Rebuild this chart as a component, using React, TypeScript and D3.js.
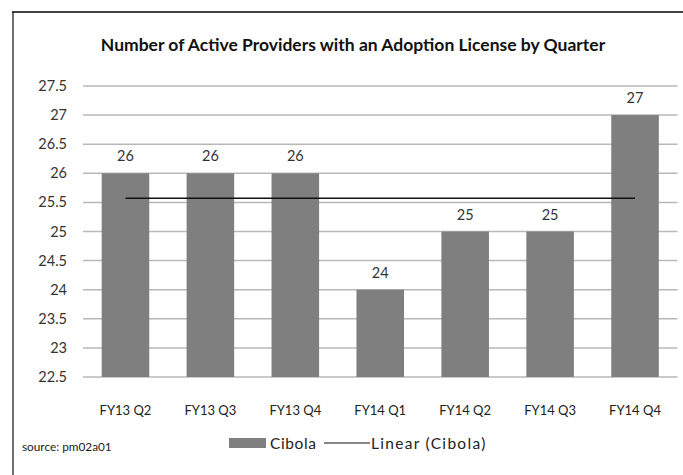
import React from "react";
import * as d3 from "d3";

const categories = ["FY13 Q2", "FY13 Q3", "FY13 Q4", "FY14 Q1", "FY14 Q2", "FY14 Q3", "FY14 Q4"];
const cibola = [26, 26, 26, 24, 25, 25, 27];
const yTicks = [22.5, 23, 23.5, 24, 24.5, 25, 25.5, 26, 26.5, 27, 27.5];
const title = "Number of Active Providers with an Adoption License by Quarter";
const sourceText = "source: pm02a01";
const seriesName = "Cibola";
const trendName = "Linear (Cibola)";

const W = 683, H = 475;
const plot = { left: 83, right: 677.5, top: 86, bottom: 377 };
const FONT = "Lato, 'Open Sans', sans-serif";

export default function App() {
  const x = d3.scaleBand<string>().domain(categories).range([plot.left, plot.right]).paddingInner(0.44).paddingOuter(0.22);
  const y = d3.scaleLinear().domain([22.5, 27.5]).range([plot.bottom, plot.top]);

  // linear regression for trendline
  const xs = cibola.map((_, i) => i + 1);
  const mx = d3.mean(xs) as number;
  const my = d3.mean(cibola) as number;
  const slope = d3.sum(xs.map((xi, i) => (xi - mx) * (cibola[i] - my))) / d3.sum(xs.map((xi) => (xi - mx) ** 2));
  const intercept = my - slope * mx;
  const cx = (i: number) => (x(categories[i]) as number) + x.bandwidth() / 2;
  const trend = d3.line<number>().x((_, i) => cx(i)).y((xi) => y(intercept + slope * xi));

  return (
    <svg width={W} height={H} style={{ position: "absolute", left: 0, top: 0, background: "#fff" }}>
      <rect x={0} y={0} width={W} height={H} fill="#fff" />
      <line x1={12} x2={W} y1={12} y2={12} stroke="#444" strokeWidth={2} />
      <line x1={13} x2={13} y1={12} y2={H} stroke="#111" strokeWidth={1.2} />
      <text x={353} y={51} textAnchor="middle" fontFamily={FONT} fontWeight={700} fontSize={17.5} fill="#111">{title}</text>
      {yTicks.map((t) => (
        <g key={t}>
          <line x1={plot.left} x2={plot.right} y1={y(t)} y2={y(t)} stroke="#b8b8b8" strokeWidth={1.5} />
          <text x={67} y={y(t)} dy="0.35em" textAnchor="end" fontFamily={FONT} fontSize={14.5} fill="#333">{t}</text>
        </g>
      ))}
      {cibola.map((v, i) => (
        <g key={categories[i]}>
          <rect x={x(categories[i])} y={y(v)} width={x.bandwidth()} height={plot.bottom - y(v)} fill="#7f7f7f" />
          <text x={cx(i)} y={y(v) - 12} textAnchor="middle" fontFamily={FONT} fontSize={14.5} fill="#333">{v}</text>
          <text x={cx(i)} y={415} textAnchor="middle" fontFamily={FONT} fontSize={13} fill="#222">{categories[i]}</text>
        </g>
      ))}
      <path d={trend(xs) as string} stroke="#111" strokeWidth={1.5} fill="none" />
      <text x={22} y={451} fontFamily={FONT} fontSize={11.8} fill="#222">{sourceText}</text>
      <rect x={229} y={438} width={37} height={10} fill="#7f7f7f" />
      <text x={270} y={449} fontFamily={FONT} fontSize={15.5} letterSpacing={0.6} fill="#222">{seriesName}</text>
      <line x1={324} x2={370} y1={443} y2={443} stroke="#111" strokeWidth={1.2} />
      <text x={371} y={449} fontFamily={FONT} fontSize={15.5} letterSpacing={1.3} fill="#222">{trendName}</text>
    </svg>
  );
}
